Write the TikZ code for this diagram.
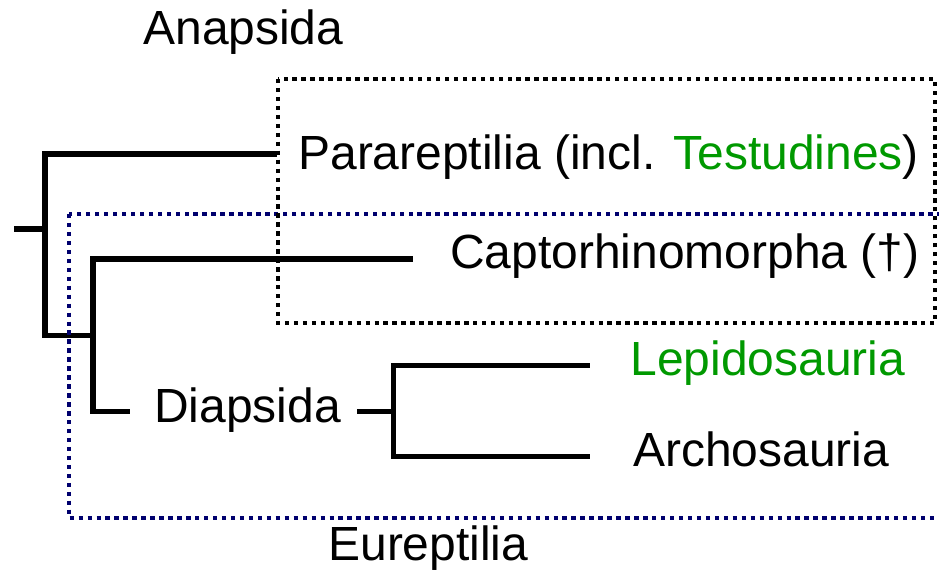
\documentclass[tikz,border=0pt]{standalone}
\usepackage{fontspec}
\setmainfont{Liberation Sans}
\definecolor{taxgreen}{RGB}{0,153,0}
\definecolor{boxnavy}{RGB}{0,0,110}
\begin{document}
\begin{tikzpicture}[x=0.02cm,y=-0.02cm]
        \tikzstyle{every node} = [font=\fontsize{27.3}{32}\selectfont, inner sep=0pt, anchor=base west]
        \tikzstyle{branch} = [line width=2.85pt, line cap=rect]
        \tikzstyle{cladebox} = [line width=2.6pt, dash pattern=on 2.5pt off 2.6pt]
            \useasboundingbox (0,0) rectangle (939,571);
            \begin{scope}
                % taxa
                \node (anap) at (143,45) {Anapsida};
                \node (para) at (298,169) {Parareptilia (incl. \textcolor{taxgreen}{Testudines})};
                \node (capt) at (450,268) {Captorhinomorpha (\textdagger)};
                \node (diap) at (154,422) {Diapsida};
                \node[text=taxgreen] (lepi) at (630,375) {Lepidosauria};
                \node (arch) at (633,466) {Archosauria};
                \node (eure) at (328,560) {Eureptilia};

                % branch points
                \coordinate (root) at (17,229);
                \coordinate (rootv) at (45,229);
                \coordinate (rtop) at (45,154);
                \coordinate (rbot) at (45,335);
                \coordinate (paratip) at (274,154);
                \coordinate (eurev) at (93,335);
                \coordinate (etop) at (93,259);
                \coordinate (ebot) at (93,411);
                \coordinate (capttip) at (410,259);
                \coordinate (diaptip) at (127,411);
                \coordinate (dstub) at (359,411);
                \coordinate (dv) at (393,411);
                \coordinate (dtop) at (393,365);
                \coordinate (dbot) at (393,456);
                \coordinate (lepitip) at (587,365);
                \coordinate (archtip) at (587,456);

                \draw[branch] (root) -- (rootv);
                \draw[branch] (paratip) -- (rtop) -- (rbot) -- (eurev);
                \draw[branch] (capttip) -- (etop) -- (ebot) -- (diaptip);
                \draw[branch] (dstub) -- (dv);
                \draw[branch] (lepitip) -- (dtop) -- (dbot) -- (archtip);

                % clades
                \draw[cladebox,boxnavy] (69,214) rectangle (945,518);
                \draw[cladebox,black] (278,79) rectangle (935,323);
            \end{scope}
\end{tikzpicture}
\end{document}
